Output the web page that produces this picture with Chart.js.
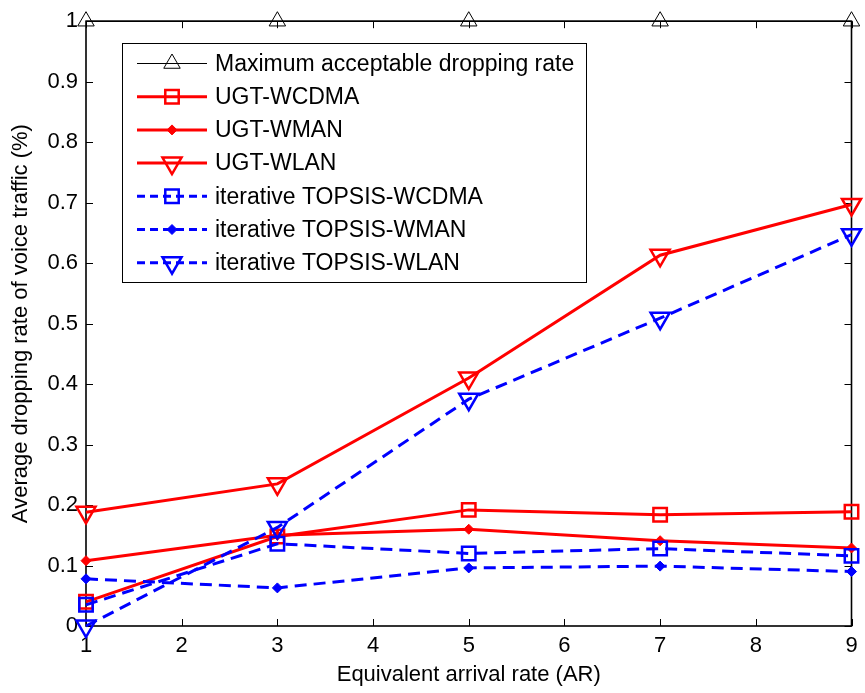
<!DOCTYPE html>
<html>
<head>
<meta charset="utf-8">
<script src="https://cdn.jsdelivr.net/npm/chart.js@4/dist/chart.umd.min.js"></script>
<style>
  html, body { margin: 0; padding: 0; background: #fff; }
  #wrap { width: 865px; height: 693px; }
</style>
</head>
<body>
<div id="wrap"><canvas id="c" width="865" height="693"></canvas></div>
<script>
// Equivalent arrival rate (AR) sample points
const arrivalRates = [1, 3, 5, 7, 9];

// Average dropping rate of voice traffic (%)
const maxAcceptable = [1, 1, 1, 1, 1];
const ugtWcdma = [0.040, 0.148, 0.192, 0.184, 0.189];
const ugtWman  = [0.108, 0.150, 0.160, 0.141, 0.129];
const ugtWlan  = [0.188, 0.235, 0.410, 0.613, 0.697];
const topWcdma = [0.035, 0.136, 0.120, 0.128, 0.116];
const topWman  = [0.078, 0.063, 0.096, 0.099, 0.090];
const topWlan  = [0.000, 0.163, 0.375, 0.509, 0.647];

const seriesNames = [
  'Maximum acceptable dropping rate',
  'UGT-WCDMA',
  'UGT-WMAN',
  'UGT-WLAN',
  'iterative TOPSIS-WCDMA',
  'iterative TOPSIS-WMAN',
  'iterative TOPSIS-WLAN'
];

const yTicks = [0, 0.1, 0.2, 0.3, 0.4, 0.5, 0.6, 0.7, 0.8, 0.9, 1];
const xTicks = [1, 2, 3, 4, 5, 6, 7, 8, 9];

const FONT = '"Liberation Sans", Arial, Helvetica, sans-serif';
const RED = '#ff0000';
const BLUE = '#0000ff';
const DASH = [12, 7];

function pts(values) {
  return arrivalRates.map((x, i) => ({ x: x, y: values[i] }));
}

function series(label, values, color, style) {
  return Object.assign({
    label: label,
    data: pts(values),
    borderColor: color,
    pointBorderColor: color,
    pointBackgroundColor: 'rgba(0,0,0,0)',
    borderWidth: 3,
    pointBorderWidth: 2.5,
    pointHoverRadius: 0,
    tension: 0,
    fill: false,
    clip: false
  }, style);
}

const datasets = [
  series(seriesNames[0], maxAcceptable, '#000000',
    { borderWidth: 1, pointBorderWidth: 1, pointStyle: 'triangle', pointRadius: 9.5 }),
  series(seriesNames[1], ugtWcdma, RED, { pointStyle: 'rect', pointRadius: 9.5 }),
  series(seriesNames[2], ugtWman, RED, { pointStyle: 'rectRot', pointRadius: 5, pointBackgroundColor: RED, pointBorderWidth: 1 }),
  series(seriesNames[3], ugtWlan, RED, { pointStyle: 'triangle', pointRotation: 180, pointRadius: 11 }),
  series(seriesNames[4], topWcdma, BLUE, { pointStyle: 'rect', pointRadius: 9.5, borderDash: DASH }),
  series(seriesNames[5], topWman, BLUE, { pointStyle: 'rectRot', pointRadius: 5, pointBackgroundColor: BLUE, pointBorderWidth: 1, borderDash: DASH }),
  series(seriesNames[6], topWlan, BLUE, { pointStyle: 'triangle', pointRotation: 180, pointRadius: 11, borderDash: DASH })
];
// later series are painted on top of earlier ones
datasets.forEach((d, i) => { d.order = datasets.length - i; });

// Axes box with inward tick marks on all four sides
const boxPlugin = {
  id: 'axesBox',
  beforeDatasetsDraw(chart) {
    const { ctx, chartArea: a, scales } = chart;
    const len = 7;
    ctx.save();
    ctx.strokeStyle = '#000';
    ctx.lineWidth = 1;
    ctx.beginPath();
    xTicks.forEach(v => {
      const px = Math.round(scales.x.getPixelForValue(v)) + 0.5;
      ctx.moveTo(px, a.bottom); ctx.lineTo(px, a.bottom - len);
      ctx.moveTo(px, a.top); ctx.lineTo(px, a.top + len);
    });
    yTicks.forEach(v => {
      const py = Math.round(scales.y.getPixelForValue(v)) + 0.5;
      ctx.moveTo(a.left, py); ctx.lineTo(a.left + len, py);
      ctx.moveTo(a.right, py); ctx.lineTo(a.right - len, py);
    });
    ctx.stroke();
    ctx.lineWidth = 1.6;
    ctx.strokeRect(a.left, a.top, a.right - a.left, a.bottom - a.top);
    ctx.restore();
  }
};

// Boxed legend in the upper-left of the plot
const legendPlugin = {
  id: 'boxLegend',
  afterDraw(chart) {
    const { ctx } = chart;
    const bx = 122, by = 43, bw = 464, bh = 239;
    const rowY0 = 63.5, rowStep = 33.2;
    const lineX0 = 137, lineX1 = 207, markX = 172, textX = 215;
    ctx.save();
    ctx.fillStyle = '#fff';
    ctx.fillRect(bx, by, bw, bh);
    ctx.strokeStyle = '#000';
    ctx.lineWidth = 1;
    ctx.strokeRect(bx + 0.5, by + 0.5, bw, bh);
    chart.data.datasets.forEach((d, i) => {
      const y = rowY0 + i * rowStep;
      ctx.save();
      ctx.strokeStyle = d.borderColor;
      ctx.lineWidth = d.borderWidth;
      ctx.setLineDash(d.borderDash ? [8, 5] : []);
      ctx.beginPath();
      ctx.moveTo(lineX0, y);
      ctx.lineTo(lineX1, y);
      ctx.stroke();
      ctx.setLineDash([]);
      ctx.strokeStyle = d.pointBorderColor;
      ctx.fillStyle = d.pointBackgroundColor;
      ctx.lineWidth = d.pointBorderWidth;
      Chart.helpers.drawPoint(ctx, {
        pointStyle: d.pointStyle,
        rotation: d.pointRotation || 0,
        radius: d.pointRadius,
        borderWidth: d.pointBorderWidth
      }, markX, y);
      ctx.restore();
      ctx.fillStyle = '#000';
      ctx.font = '23px ' + FONT;
      ctx.textBaseline = 'middle';
      ctx.textAlign = 'left';
      ctx.fillText(d.label, textX, y + 1);
    });
    ctx.restore();
  }
};

new Chart(document.getElementById('c'), {
  type: 'line',
  data: { datasets: datasets },
  options: {
    responsive: false,
    animation: false,
    events: [],
    layout: { padding: { left: 0, right: 9, top: 19, bottom: 0 } },
    plugins: { legend: { display: false }, tooltip: { enabled: false } },
    scales: {
      x: {
        type: 'linear',
        min: 1, max: 9,
        afterBuildTicks(s) { s.ticks = xTicks.map(v => ({ value: v })); },
        afterFit(s) { s.height = 67; },
        grid: { display: false, drawTicks: false },
        border: { display: false },
        ticks: {
          color: '#000', padding: 7,
          font: { family: FONT, size: 22 },
          callback: v => String(v)
        },
        title: {
          display: true,
          text: 'Equivalent arrival rate (AR)',
          color: '#000',
          font: { family: FONT, size: 22 },
          padding: { top: 0, bottom: 5 }
        }
      },
      y: {
        type: 'linear',
        min: 0, max: 1,
        afterBuildTicks(s) { s.ticks = yTicks.map(v => ({ value: v })); },
        afterFit(s) { s.width = 86; },
        grid: { display: false, drawTicks: false },
        border: { display: false },
        ticks: {
          color: '#000', padding: 8,
          font: { family: FONT, size: 22 },
          callback: v => (v === 0 || v === 1) ? String(v) : (Math.round(v * 10) / 10).toFixed(1)
        },
        title: {
          display: true,
          text: 'Average dropping rate of voice traffic (%)',
          color: '#000',
          font: { family: FONT, size: 22 },
          padding: { top: 8, bottom: 0 }
        }
      }
    }
  },
  plugins: [boxPlugin, legendPlugin]
});
</script>
</body>
</html>
